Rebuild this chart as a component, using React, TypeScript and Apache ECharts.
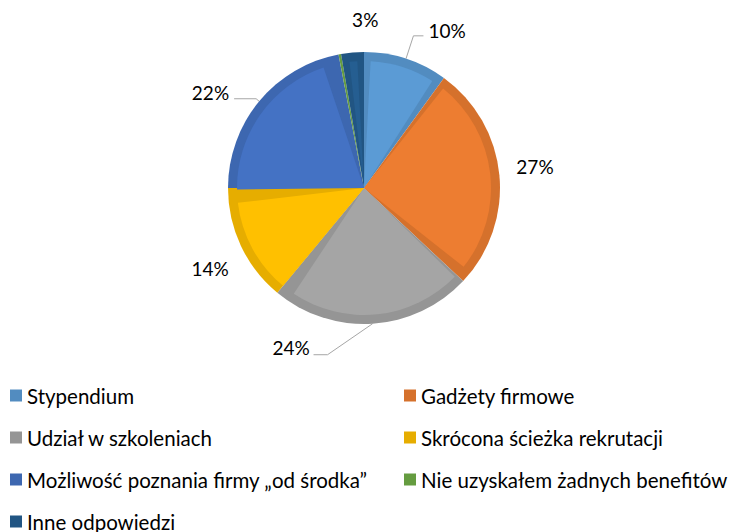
import React, { useEffect, useRef } from 'react';
import * as echarts from 'echarts';

// ---- data ----
const categories = [
  'Stypendium',
  'Gadżety firmowe',
  'Udział w szkoleniach',
  'Skrócona ścieżka rekrutacji',
  'Możliwość poznania firmy „od środka”',
  'Nie uzyskałem żadnych benefitów',
  'Inne odpowiedzi',
];
const percentages = [10, 27, 24, 14, 22, 0.3, 2.7];
const legendLeftColumn = [categories[0], categories[2], categories[4], categories[6]];
const legendRightColumn = [categories[1], categories[3], categories[5]];

// ---- styles ----
const fillColors = ['#5B9BD5', '#ED7D31', '#A5A5A5', '#FFC000', '#4472C4', '#70AD47', '#255E91'];
const edgeColors = ['#528CC0', '#D5712C', '#959595', '#E6AD00', '#3D67B0', '#659C40', '#215583'];
const labelLineLengths = [[24, 10], [10, 0], [15, 10], [8, 0], [4, 22], [10, 0], [25, 0]];
const labelLineVisible = [true, false, true, false, true, false, false];
const labelNudges: (number[] | null)[] = [[0, -5], [2, -8], null, [0, 19], [0, -6], null, [33, -8]];
const customLeader = { index: 2, bend: [-45, 31], end: [-59, 31], text: [-81.5, 24] };
const FONT = 'Lato, "Noto Sans", sans-serif';
const CENTER = [364, 188];
const RADIUS = 136;

export default function App() {
  const ref = useRef<HTMLDivElement>(null);
  useEffect(() => {
    if (!ref.current) return;
    const chart = echarts.init(ref.current, undefined, { renderer: 'svg' });

    const edgeData = categories.map((name, i) => ({
      name,
      value: percentages[i],
      itemStyle: { color: edgeColors[i] },
      label: { show: i !== 5 },
      labelLine: {
        show: labelLineVisible[i],
        length: labelLineLengths[i][0],
        length2: labelLineLengths[i][1],
      },
    }));
    const fillData = categories.map((name, i) => ({
      name,
      value: percentages[i],
      itemStyle: { color: fillColors[i] },
    }));

    const legendBase = {
      orient: 'vertical',
      top: 385,
      height: 180,
      padding: 0,
      itemWidth: 12,
      itemHeight: 12,
      itemGap: 21,
      icon: 'rect',
      selectedMode: false,
      textStyle: { fontFamily: FONT, fontSize: 20.5, color: '#000', lineHeight: 20 },
    };

    chart.setOption({
      animation: false,
      backgroundColor: '#ffffff',
      legend: [
        { ...legendBase, left: 10, data: legendLeftColumn },
        { ...legendBase, left: 404, data: legendRightColumn },
      ],
      series: [
        {
          type: 'pie',
          center: CENTER,
          radius: RADIUS,
          startAngle: 90,
          clockwise: true,
          avoidLabelOverlap: false,
          emphasis: { disabled: true },
          data: edgeData,
          label: {
            position: 'outside',
            fontFamily: FONT,
            fontSize: 19,
            color: '#000',
            formatter: (p: any) => Math.round(p.value) + '%',
          },
          labelLine: { lineStyle: { color: '#A6A6A6', width: 1 }, smooth: false },
          labelLayout: (p: any) => {
            const i = p.dataIndex;
            const pts = p.labelLinePoints;
            const rect = p.labelRect;
            if (i === customLeader.index && pts) {
              const [x0, y0] = pts[0];
              return {
                x: x0 + customLeader.text[0],
                y: y0 + customLeader.text[1],
                align: 'center',
                verticalAlign: 'middle',
                labelLinePoints: [
                  [x0, y0],
                  [x0 + customLeader.bend[0], y0 + customLeader.bend[1]],
                  [x0 + customLeader.end[0], y0 + customLeader.end[1]],
                ],
              };
            }
            const n = labelNudges[i];
            if (!n) return {};
            const out: any = {
              x: rect.x + rect.width / 2 + n[0],
              y: rect.y + rect.height / 2 + n[1],
              align: 'center',
              verticalAlign: 'middle',
            };
            if (pts) out.labelLinePoints = pts;
            return out;
          },
        },
        {
          type: 'pie',
          center: CENTER,
          radius: RADIUS - 9,
          startAngle: 90,
          clockwise: true,
          padAngle: 6,
          silent: true,
          emphasis: { disabled: true },
          label: { show: false },
          labelLine: { show: false },
          data: fillData,
        },
      ],
    });
    return () => chart.dispose();
  }, []);
  return (
    <div
      ref={ref}
      style={{ position: 'fixed', left: 0, top: 0, width: 738, height: 532 }}
    />
  );
}
